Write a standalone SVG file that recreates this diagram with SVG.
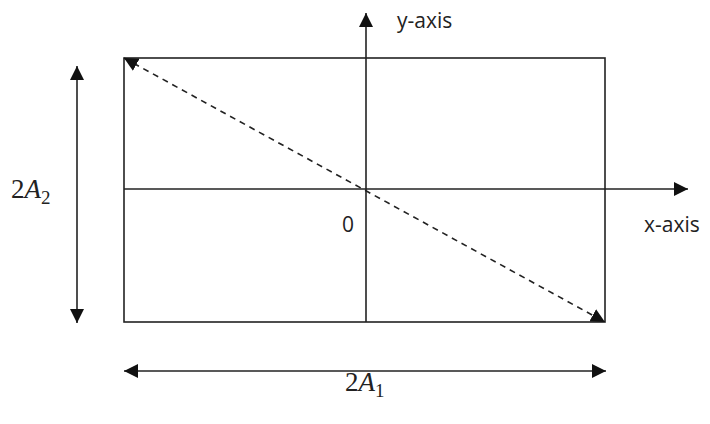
<svg xmlns="http://www.w3.org/2000/svg" width="710" height="424" viewBox="0 0 710 424">
<style>
.ln{stroke:#222;stroke-width:1.6;fill:none}
.lbl{font-family:"Open Sans","Liberation Sans",sans-serif;font-size:21px;fill:#222}
.math{font-family:"Liberation Serif",serif;font-size:27px;fill:#222}
</style>
<defs>
<marker id="ahb" viewBox="0 0 10 10" refX="10" refY="5" markerWidth="14" markerHeight="14" markerUnits="userSpaceOnUse" orient="auto-start-reverse">
<path d="M0,0 L10,5 L0,10 z" fill="#111"/>
</marker>
</defs>
<rect width="710" height="424" fill="#fff"/>
<g id="rectangle"><rect class="ln" x="124" y="58" width="481" height="264"/></g>
<g id="connectors">
<line id="x-axis-line" class="ln" x1="124" y1="189" x2="688" y2="189" marker-end="url(#ahb)"/>
<line id="y-axis-line" class="ln" x1="366" y1="322" x2="366" y2="13" marker-end="url(#ahb)"/>
<line id="diagonal" class="ln" x1="124" y1="58" x2="605" y2="322" stroke-dasharray="6,5" marker-start="url(#ahb)" marker-end="url(#ahb)"/>
<line id="height-arrow" class="ln" x1="77" y1="66" x2="77" y2="323" stroke="#666" marker-start="url(#ahb)" marker-end="url(#ahb)"/>
<line id="width-arrow" class="ln" x1="124" y1="371" x2="606" y2="371" stroke="#666" marker-start="url(#ahb)" marker-end="url(#ahb)"/>
</g>
<g id="labels">
<text class="lbl" x="397" y="28">y-axis</text>
<text class="lbl" x="342" y="232">0</text>
<text class="lbl" x="644" y="232">x-axis</text>
<text class="math" x="11" y="198">2<tspan font-style="italic">A</tspan><tspan font-size="19" dy="6">2</tspan></text>
<text class="math" x="345" y="391">2<tspan font-style="italic">A</tspan><tspan font-size="19" dy="6">1</tspan></text>
</g>
</svg>
